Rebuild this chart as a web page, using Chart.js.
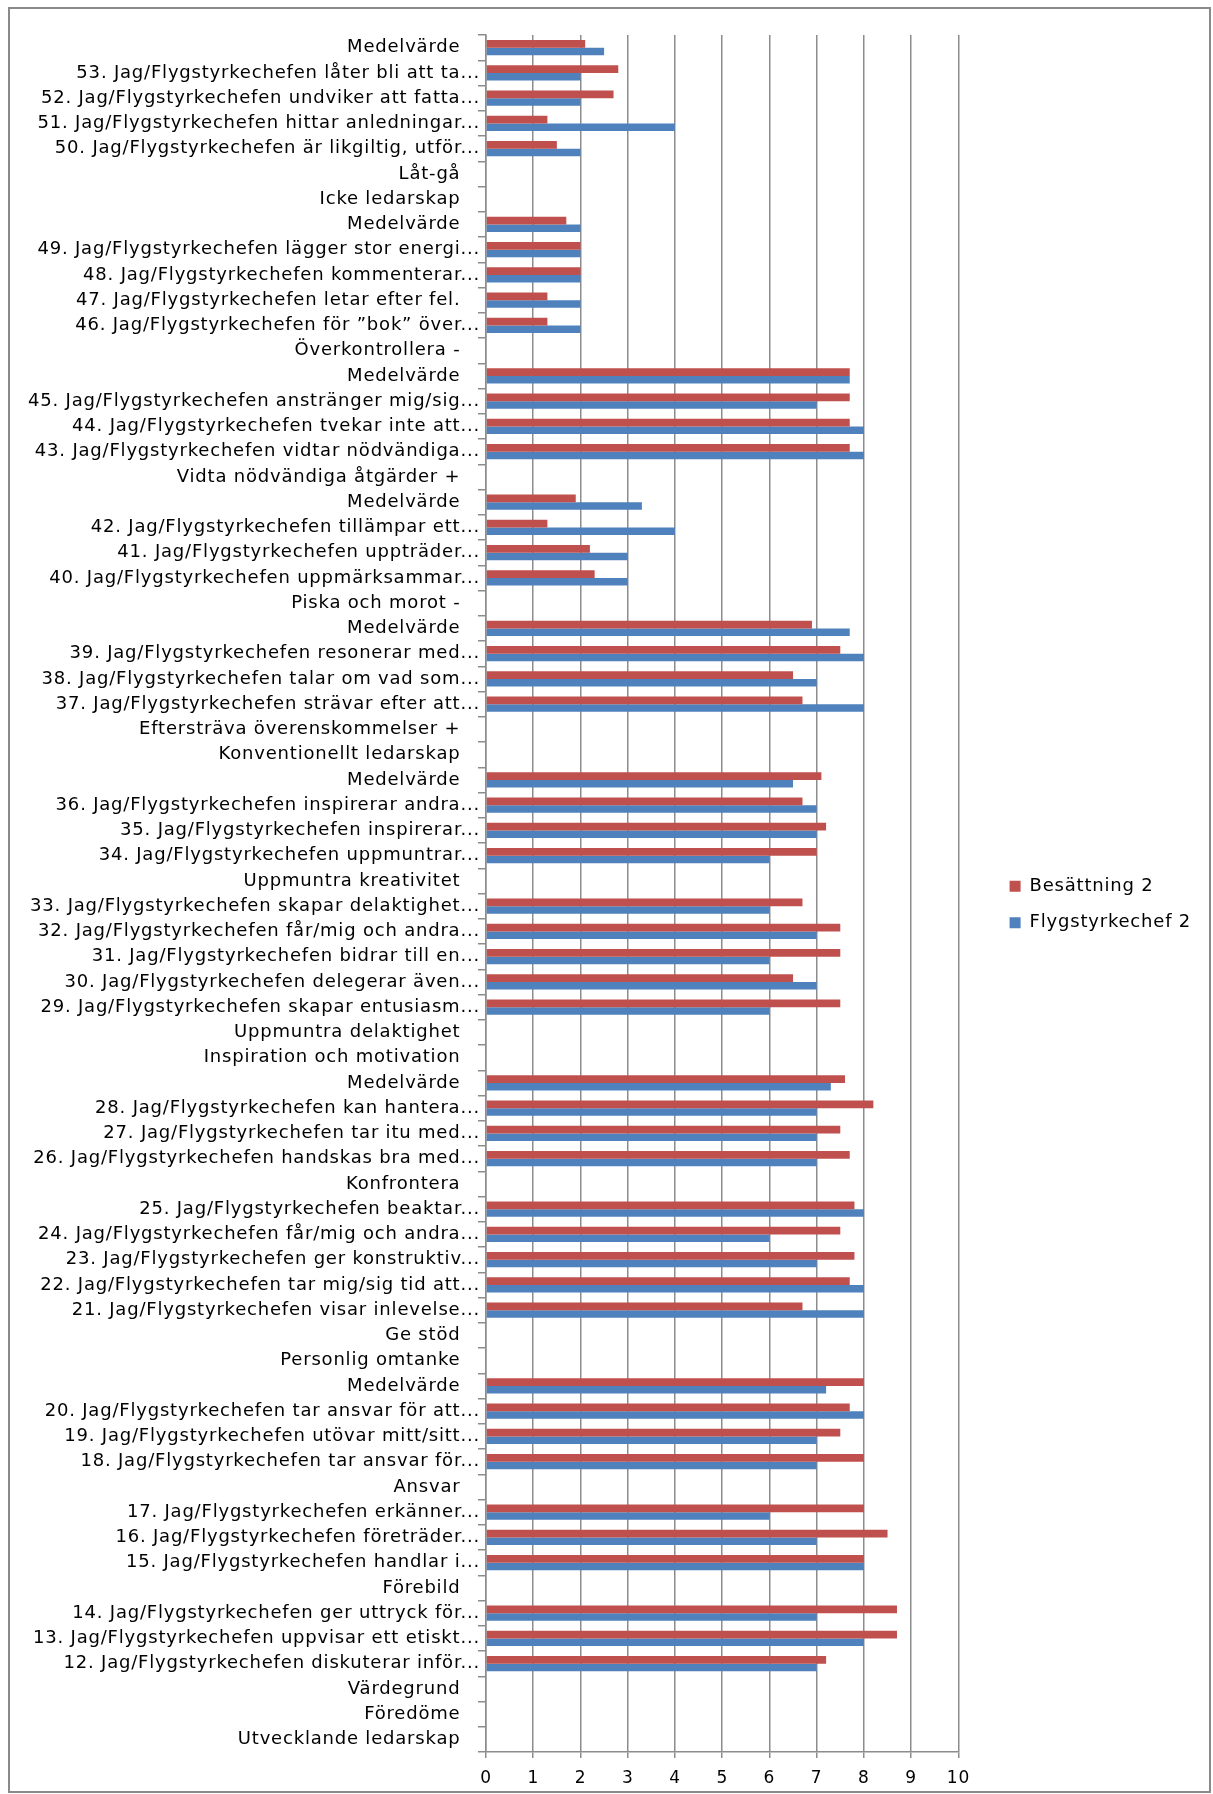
<!DOCTYPE html>
<html lang="sv">
<head>
<meta charset="utf-8">
<title>Utvecklande ledarskap – Besättning 2 / Flygstyrkechef 2</title>
<script src="https://cdn.jsdelivr.net/npm/chart.js@4.4.1/dist/chart.umd.min.js"></script>
<style>
  html, body { margin: 0; padding: 0; background: #fff; }
  #wrap { position: relative; width: 1213px; height: 1794px; }
  #wrap canvas { position: absolute; left: 0; top: 0; }
  #frame {
    position: absolute; left: 8px; top: 7px; width: 1203px; height: 1786px;
    box-sizing: border-box; border: 2px solid #8a8a8a; pointer-events: none;
  }
</style>
</head>
<body>
<div id="wrap">
  <canvas id="chart" width="1213" height="1794"></canvas>
  <div id="frame"></div>
</div>
<script>
'use strict';

// Categories, top to bottom
const categories = [
  'Medelvärde',
  '53. Jag/Flygstyrkechefen låter bli att ta...',
  '52. Jag/Flygstyrkechefen undviker att fatta...',
  '51. Jag/Flygstyrkechefen hittar anledningar...',
  '50. Jag/Flygstyrkechefen är likgiltig, utför...',
  'Låt-gå',
  'Icke ledarskap',
  'Medelvärde',
  '49. Jag/Flygstyrkechefen lägger stor energi...',
  '48. Jag/Flygstyrkechefen kommenterar...',
  '47. Jag/Flygstyrkechefen letar efter fel.',
  '46. Jag/Flygstyrkechefen för ”bok” över...',
  'Överkontrollera -',
  'Medelvärde',
  '45. Jag/Flygstyrkechefen anstränger mig/sig...',
  '44. Jag/Flygstyrkechefen tvekar inte att...',
  '43. Jag/Flygstyrkechefen vidtar nödvändiga...',
  'Vidta nödvändiga åtgärder +',
  'Medelvärde',
  '42. Jag/Flygstyrkechefen tillämpar ett...',
  '41. Jag/Flygstyrkechefen uppträder...',
  '40. Jag/Flygstyrkechefen uppmärksammar...',
  'Piska och morot -',
  'Medelvärde',
  '39. Jag/Flygstyrkechefen resonerar med...',
  '38. Jag/Flygstyrkechefen talar om vad som...',
  '37. Jag/Flygstyrkechefen strävar efter att...',
  'Eftersträva överenskommelser +',
  'Konventionellt ledarskap',
  'Medelvärde',
  '36. Jag/Flygstyrkechefen inspirerar andra...',
  '35. Jag/Flygstyrkechefen inspirerar...',
  '34. Jag/Flygstyrkechefen uppmuntrar...',
  'Uppmuntra kreativitet',
  '33. Jag/Flygstyrkechefen skapar delaktighet...',
  '32. Jag/Flygstyrkechefen får/mig och andra...',
  '31. Jag/Flygstyrkechefen bidrar till en...',
  '30. Jag/Flygstyrkechefen delegerar även...',
  '29. Jag/Flygstyrkechefen skapar entusiasm...',
  'Uppmuntra delaktighet',
  'Inspiration och motivation',
  'Medelvärde',
  '28. Jag/Flygstyrkechefen kan hantera...',
  '27. Jag/Flygstyrkechefen tar itu med...',
  '26. Jag/Flygstyrkechefen handskas bra med...',
  'Konfrontera',
  '25. Jag/Flygstyrkechefen beaktar...',
  '24. Jag/Flygstyrkechefen får/mig och andra...',
  '23. Jag/Flygstyrkechefen ger konstruktiv...',
  '22. Jag/Flygstyrkechefen tar mig/sig tid att...',
  '21. Jag/Flygstyrkechefen visar inlevelse...',
  'Ge stöd',
  'Personlig omtanke',
  'Medelvärde',
  '20. Jag/Flygstyrkechefen tar ansvar för att...',
  '19. Jag/Flygstyrkechefen utövar mitt/sitt...',
  '18. Jag/Flygstyrkechefen tar ansvar för...',
  'Ansvar',
  '17. Jag/Flygstyrkechefen erkänner...',
  '16. Jag/Flygstyrkechefen företräder...',
  '15. Jag/Flygstyrkechefen handlar i...',
  'Förebild',
  '14. Jag/Flygstyrkechefen ger uttryck för...',
  '13. Jag/Flygstyrkechefen uppvisar ett etiskt...',
  '12. Jag/Flygstyrkechefen diskuterar inför...',
  'Värdegrund',
  'Föredöme',
  'Utvecklande ledarskap'
];

// Besättning 2 (same order as categories, null = heading row)
const besattning = [
  2.1, 2.8, 2.7, 1.3, 1.5, null, null,
  1.7, 2, 2, 1.3, 1.3, null,
  7.7, 7.7, 7.7, 7.7, null,
  1.9, 1.3, 2.2, 2.3, null,
  6.9, 7.5, 6.5, 6.7, null, null,
  7.1, 6.7, 7.2, 7, null,
  6.7, 7.5, 7.5, 6.5, 7.5, null, null,
  7.6, 8.2, 7.5, 7.7, null,
  7.8, 7.5, 7.8, 7.7, 6.7, null, null,
  8, 7.7, 7.5, 8, null,
  8, 8.5, 8, null,
  8.7, 8.7, 7.2, null, null, null
];

// Flygstyrkechef 2
const flygstyrkechef = [
  2.5, 2, 2, 4, 2, null, null,
  2, 2, 2, 2, 2, null,
  7.7, 7, 8, 8, null,
  3.3, 4, 3, 3, null,
  7.7, 8, 7, 8, null, null,
  6.5, 7, 7, 6, null,
  6, 7, 6, 7, 6, null, null,
  7.3, 7, 7, 7, null,
  8, 6, 7, 8, 8, null, null,
  7.2, 8, 7, 7, null,
  6, 7, 8, null,
  7, 8, 7, null, null, null
];

const xTicks = [0, 1, 2, 3, 4, 5, 6, 7, 8, 9, 10];

const FONT = 'DejaVu Sans';
const GRID = '#8c8c8c';

// Wider tracking for all chart text
const letterSpacingPlugin = {
  id: 'letterSpacing',
  beforeUpdate(chart) { chart.ctx.letterSpacing = '0.8px'; },
  beforeDraw(chart) { chart.ctx.letterSpacing = '0.8px'; }
};

// Empty layout box, used to leave room around the plot
function spacer(position, size, weight) {
  const horizontal = position === 'top' || position === 'bottom';
  return {
    position,
    weight,
    fullSize: false,
    options: {},
    left: 0, top: 0, right: 0, bottom: 0, width: 0, height: 0,
    isHorizontal() { return horizontal; },
    update(maxWidth, maxHeight) {
      this.width = horizontal ? maxWidth : size;
      this.height = horizontal ? size : maxHeight;
    },
    draw() {}
  };
}

const spacerPlugin = {
  id: 'spacers',
  beforeInit(chart) {
    Chart.layouts.addBox(chart, spacer('right', 32.7, 900)); // between plot and legend
    Chart.layouts.addBox(chart, spacer('top', 20, 900));     // above the plot only
  }
};

const ctx = document.getElementById('chart').getContext('2d');

new Chart(ctx, {
  type: 'bar',
  data: {
    labels: categories,
    datasets: [
      {
        label: 'Besättning 2',
        data: besattning,
        backgroundColor: '#C0504D',
        barPercentage: 1,
        categoryPercentage: 0.6
      },
      {
        label: 'Flygstyrkechef 2',
        data: flygstyrkechef,
        backgroundColor: '#4F81BD',
        barPercentage: 1,
        categoryPercentage: 0.6
      }
    ]
  },
  options: {
    indexAxis: 'y',
    responsive: false,
    animation: false,
    layout: { padding: { top: 15, left: 0, right: 23.7, bottom: 0 } },
    plugins: {
      legend: {
        position: 'right',
        labels: {
          boxWidth: 11,
          boxHeight: 11,
          padding: 18.5,
          color: '#000',
          font: { family: FONT, size: 18 }
        }
      },
      tooltip: { enabled: false }
    },
    scales: {
      x: {
        min: 0,
        max: 10,
        afterBuildTicks(scale) { scale.ticks = xTicks.map(v => ({ value: v })); },
        afterFit(scale) { scale.height = 42; },
        ticks: {
          padding: 10,
          color: '#000',
          font: { family: FONT, size: 17 }
        },
        grid: { color: GRID, lineWidth: 1.5, tickLength: 6 },
        border: { color: GRID, width: 1.5 }
      },
      y: {
        afterFit(scale) { scale.width = 486; },
        ticks: {
          autoSkip: false,
          padding: -2,
          color: '#000',
          font: { family: FONT, size: 18 },
          // full labels carry trailing space, truncated ones run to the axis
          callback(value) {
            const s = this.getLabelForValue(value);
            return s.endsWith('...') ? s : s + '   ';
          }
        },
        grid: { drawOnChartArea: false, color: GRID, lineWidth: 1.5, tickLength: 8 },
        border: { color: GRID, width: 1.5 }
      }
    }
  },
  plugins: [letterSpacingPlugin, spacerPlugin]
});
</script>
</body>
</html>
